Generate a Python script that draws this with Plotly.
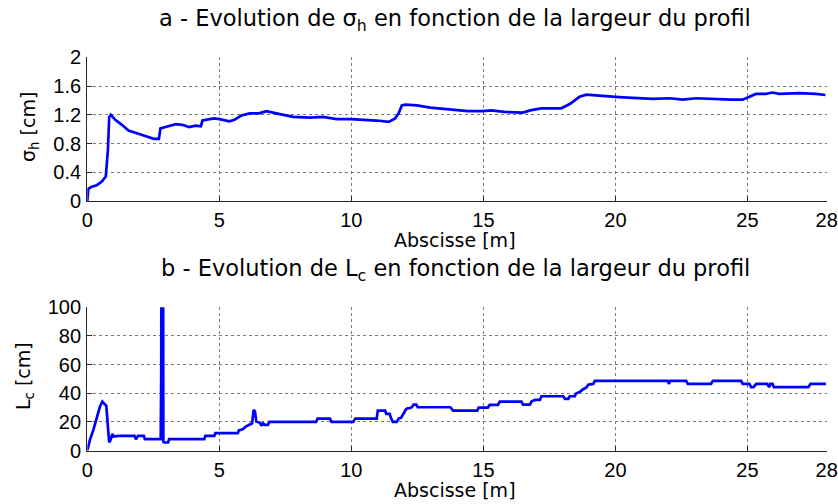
import plotly.graph_objects as go

W, H = 838, 504

# ---- data: sigma_h (top) ----
sigma_x = [0.0, 0.04, 0.17, 0.36, 0.55, 0.70, 0.78, 0.83, 0.89, 1.06, 1.31, 1.56, 1.82, 2.07, 2.33, 2.52,
           2.71, 2.77, 2.96, 3.22, 3.35, 3.60, 3.85, 4.10, 4.30, 4.36, 4.62, 4.80, 5.00, 5.38, 5.57,
           5.83, 6.15, 6.50, 6.78, 7.10, 7.29, 7.80, 8.43, 8.93, 9.44, 9.98, 10.46, 10.96, 11.41,
           11.66, 11.79, 11.91, 12.04, 12.48, 12.99, 13.49, 14.06, 14.42, 14.98, 15.30, 15.80,
           16.18, 16.49, 16.81, 17.19, 17.57, 17.95, 18.27, 18.64, 18.90, 19.34, 20.00, 20.48,
           21.11, 21.42, 22.05, 22.55, 23.06, 23.56, 24.00, 24.38, 24.82, 25.07, 25.32, 25.70,
           25.95, 26.20, 26.96, 27.59, 27.95]
sigma_y = [0.0, 0.17, 0.20, 0.22, 0.27, 0.34, 0.71, 1.17, 1.20, 1.13, 1.06, 0.98, 0.95, 0.92, 0.88, 0.865,
           0.865, 1.01, 1.03, 1.06, 1.07, 1.06, 1.03, 1.05, 1.04, 1.12, 1.14, 1.15, 1.14, 1.11, 1.13,
           1.19, 1.22, 1.22, 1.25, 1.23, 1.21, 1.17, 1.16, 1.17, 1.14, 1.14, 1.13, 1.12, 1.10,
           1.15, 1.22, 1.33, 1.34, 1.33, 1.30, 1.28, 1.26, 1.25, 1.25, 1.26, 1.24,
           1.23, 1.23, 1.265, 1.29, 1.29, 1.29, 1.35, 1.45, 1.48, 1.465, 1.45, 1.44,
           1.43, 1.42, 1.43, 1.41, 1.43, 1.42, 1.42, 1.41, 1.41, 1.45, 1.49, 1.49,
           1.51, 1.49, 1.50, 1.49, 1.475]

# ---- data: L_c (bottom) ----
lc_x = [0.0, 0.10, 0.23, 0.36, 0.48, 0.57, 0.65, 0.72, 0.78, 0.83, 0.88, 0.95, 1.00, 1.18, 1.79, 1.84,
        1.92, 2.14, 2.18, 2.74, 2.78, 2.80, 2.82, 2.86, 2.88, 2.91, 3.06, 3.10, 4.43, 4.47, 4.81,
        4.85, 5.70, 5.74, 5.90, 6.00, 6.14, 6.24, 6.30, 6.35, 6.40, 6.52, 6.59, 6.65, 6.72, 6.84,
        6.90, 8.66, 8.72, 9.19, 9.25, 10.07, 10.15, 10.96, 11.00, 11.28, 11.32, 11.45, 11.50,
        11.57, 11.72, 11.79, 11.88, 11.98, 12.07, 12.13, 12.20, 12.29, 12.36, 12.46, 12.51,
        13.75, 13.85, 14.77, 14.82, 15.17, 15.24, 15.55, 15.62, 16.44, 16.50, 16.76, 16.82,
        16.95, 17.14, 17.20, 18.02, 18.09, 18.21, 18.27, 18.46, 18.52, 18.65, 18.78, 18.90,
        18.97, 19.16, 19.22, 21.98, 22.02, 22.07, 22.68, 22.74, 23.62, 23.69, 24.76, 24.82,
        25.07, 25.14, 25.23, 25.33, 25.75, 25.82, 25.87, 25.95, 26.00, 27.30, 27.39, 27.97]
lc_y = [0.0, 7.4, 14.4, 22.6, 30.7, 34.2, 32.3, 31.2, 16.7, 5.6, 7.4, 11.6, 9.8, 10.2, 10.2, 7.9,
        10.2, 10.2, 7.9, 7.9, 8.0, 55.0, 300.0, 300.0, 6.0, 5.6, 5.6, 7.9, 7.9, 10.2, 10.2,
        12.1, 12.1, 14.0, 14.9, 16.7, 17.9, 19.0, 28.4, 27.2, 20.2, 19.5, 17.9, 19.0, 17.9, 17.9,
        20.0, 20.0, 22.3, 22.3, 20.0, 20.0, 22.3, 22.3, 27.9, 27.9, 25.6, 25.6, 22.6,
        20.0, 20.0, 22.3, 22.8, 26.0, 28.8, 29.5, 29.5, 30.2, 32.0, 32.0, 30.2,
        30.2, 27.9, 27.9, 30.0, 30.0, 31.9, 31.9, 34.2, 34.2, 32.1, 32.1, 34.2,
        35.3, 35.3, 37.9, 37.9, 36.0, 36.0, 37.9, 37.9, 40.0, 40.9, 42.8, 44.0,
        46.0, 46.5, 48.6, 48.6, 46.5, 48.6, 48.6, 46.5, 46.5, 48.6, 48.6, 46.5,
        46.5, 44.2, 44.2, 46.5, 46.5, 44.2, 46.5, 46.5, 44.2, 44.2, 46.5, 46.5]

x_ticks = [0, 5, 10, 15, 20, 25, 28]
sigma_ticks = [0, 0.4, 0.8, 1.2, 1.6, 2]
lc_ticks = [0, 20, 40, 60, 80, 100]

title_a = "a - Evolution de σ<sub>h</sub> en fonction de la largeur du profil"
title_b = "b - Evolution de L<sub>c</sub> en fonction de la largeur du profil"
xlabel = "Abscisse [m]"
ylabel_a = "σ<sub>h</sub> [cm]"
ylabel_b = "L<sub>c</sub> [cm]"

LINE = dict(color="#0000FF", width=2.7)
TICKFONT = dict(family="Liberation Sans, Arial, sans-serif", size=20, color="#000000")
TITLEFONT = dict(family="DejaVu Sans, sans-serif", size=22.5, color="#000000")
LABELFONT = dict(family="DejaVu Sans, sans-serif", size=19, color="#000000")


def px(x):
    # page pixel -> paper fraction
    return x / W


def py(y):
    return 1 - y / H


fig = go.Figure()
fig.add_trace(go.Scatter(x=sigma_x, y=sigma_y, mode="lines", line=LINE, xaxis="x", yaxis="y",
                         showlegend=False, hoverinfo="skip"))
fig.add_trace(go.Scatter(x=lc_x, y=lc_y, mode="lines", line=LINE, xaxis="x2", yaxis="y2",
                         showlegend=False, hoverinfo="skip"))

common = dict(showgrid=True, gridcolor="#7a7a7a", griddash="dot", gridwidth=1,
              showline=True, linecolor="#262626", linewidth=1.2, mirror=False,
              ticks="inside", ticklen=5, tickcolor="#262626", tickfont=TICKFONT,
              zeroline=False, automargin=False)
xcommon = dict(range=[0, 28], tickvals=x_ticks, ticktext=[str(v) for v in x_ticks],
               ticklabelstandoff=1, **common)
ycommon = dict(ticklabelstandoff=1, **common)

xd = [px(87.3), px(826.7)]
fig.update_layout(
    width=W, height=H,
    margin=dict(l=0, r=0, t=0, b=0, autoexpand=False),
    paper_bgcolor="white", plot_bgcolor="white",
    xaxis=dict(domain=xd, anchor="y", **xcommon),
    yaxis=dict(domain=[py(201), py(57.3)], anchor="x", range=[0, 2], tickvals=sigma_ticks,
               ticktext=["0", "0.4", "0.8", "1.2", "1.6", "2"], **ycommon),
    xaxis2=dict(domain=xd, anchor="y2", **xcommon),
    yaxis2=dict(domain=[py(450.5), py(307.3)], anchor="x2", range=[0, 100], tickvals=lc_ticks,
                ticktext=[str(v) for v in lc_ticks], **ycommon),
)

ann = [
    dict(text=title_a, x=px(455), y=py(20), font=TITLEFONT, textangle=0),
    dict(text=title_b, x=px(455), y=py(270), font=TITLEFONT, textangle=0),
    dict(text=xlabel, x=px(455), y=py(240), font=LABELFONT, textangle=0),
    dict(text=xlabel, x=px(455), y=py(490), font=LABELFONT, textangle=0),
    dict(text=ylabel_a, x=px(29), y=py(127), font=LABELFONT, textangle=-90),
    dict(text=ylabel_b, x=px(24), y=py(376), font=LABELFONT, textangle=-90),
]
for a in ann:
    fig.add_annotation(xref="paper", yref="paper", showarrow=False,
                       xanchor="center", yanchor="middle", **a)

fig.write_html("out.html",
               config={"displayModeBar": False, "staticPlot": True},
               post_script="document.body.style.margin='0';document.body.style.overflow='hidden';")
